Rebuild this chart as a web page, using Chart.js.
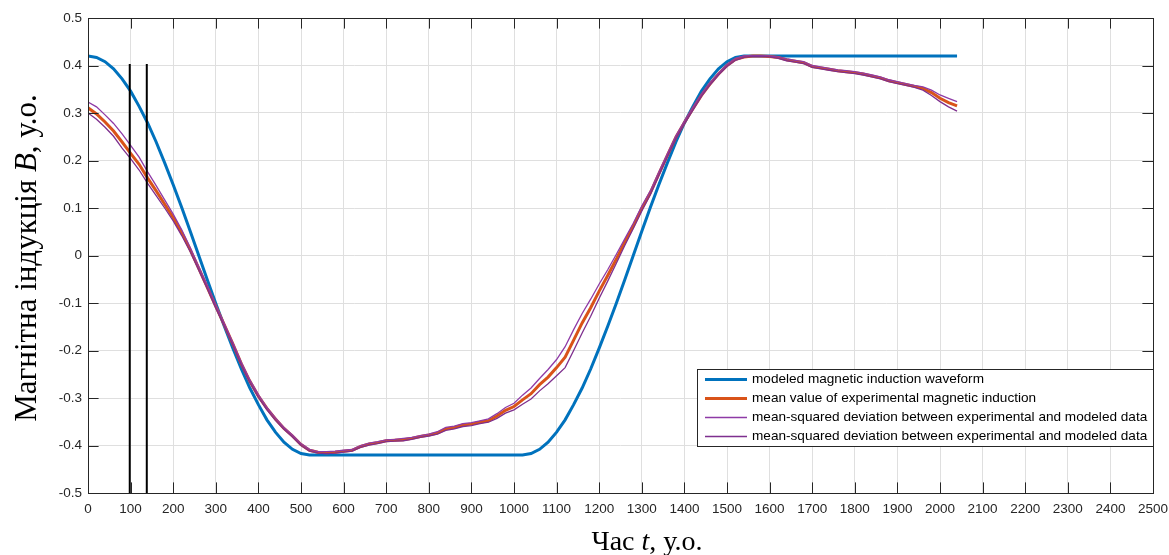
<!DOCTYPE html>
<html>
<head>
<meta charset="utf-8">
<script src="https://cdn.jsdelivr.net/npm/chart.js@4.4.1/dist/chart.umd.min.js"></script>
<style>
  html, body { margin: 0; padding: 0; background: #ffffff; }
  canvas { display: block; }
</style>
</head>
<body>
<canvas id="chart" width="1169" height="555"></canvas>
<script>
// Sampling step of all series, time in conventional units
const T_STEP = 20;

// Modeled magnetic induction waveform, t = 0 … 2040
const modeled = [
  0.420, 0.417, 0.408, 0.393, 0.372, 0.346, 0.314, 0.279, 0.239, 0.195,
  0.149, 0.101, 0.051, 0.000, -0.051, -0.101, -0.149, -0.195, -0.239, -0.279,
  -0.314, -0.346, -0.372, -0.393, -0.408, -0.417, -0.420,
  -0.420, -0.420, -0.420, -0.420, -0.420, -0.420, -0.420, -0.420, -0.420, -0.420,
  -0.420, -0.420, -0.420, -0.420, -0.420, -0.420, -0.420, -0.420, -0.420, -0.420,
  -0.420, -0.420, -0.420, -0.420,
  -0.420, -0.417, -0.408, -0.393, -0.372, -0.346, -0.314, -0.279, -0.239, -0.195,
  -0.149, -0.101, -0.051, 0.000, 0.051, 0.101, 0.149, 0.195, 0.239, 0.279,
  0.314, 0.346, 0.372, 0.393, 0.408, 0.417, 0.420,
  0.420, 0.420, 0.420, 0.420, 0.420, 0.420, 0.420, 0.420, 0.420, 0.420,
  0.420, 0.420, 0.420, 0.420, 0.420, 0.420, 0.420, 0.420, 0.420, 0.420,
  0.420, 0.420, 0.420, 0.420, 0.420
];

// Mean value of experimental magnetic induction
const meanExp = [
  0.311, 0.298, 0.281, 0.262, 0.239, 0.215, 0.192, 0.163, 0.136, 0.108,
  0.080, 0.048, 0.012, -0.027, -0.067, -0.107, -0.146, -0.186, -0.228, -0.265,
  -0.296, -0.322, -0.344, -0.364, -0.380, -0.398, -0.410, -0.414, -0.415, -0.414,
  -0.412, -0.410, -0.402, -0.397, -0.394, -0.390, -0.389, -0.388, -0.385, -0.381,
  -0.378, -0.374, -0.365, -0.362, -0.357, -0.355, -0.351, -0.348, -0.338, -0.326,
  -0.318, -0.304, -0.291, -0.272, -0.256, -0.236, -0.214, -0.178, -0.142, -0.110,
  -0.075, -0.042, -0.008, 0.028, 0.062, 0.099, 0.132, 0.172, 0.211, 0.249,
  0.280, 0.309, 0.337, 0.361, 0.382, 0.400, 0.413, 0.418, 0.420, 0.420,
  0.419, 0.417, 0.412, 0.409, 0.406, 0.398, 0.395, 0.392, 0.389, 0.387,
  0.385, 0.382, 0.378, 0.374, 0.368, 0.364, 0.360, 0.356, 0.352, 0.343,
  0.331, 0.322, 0.315
];

// Upper mean-squared deviation bound
const devUpper = [
  0.323, 0.313, 0.296, 0.278, 0.256, 0.232, 0.207, 0.176, 0.147, 0.117,
  0.087, 0.054, 0.017, -0.023, -0.063, -0.104, -0.143, -0.183, -0.225, -0.262,
  -0.293, -0.320, -0.342, -0.362, -0.378, -0.396, -0.408, -0.413, -0.413, -0.412,
  -0.410, -0.408, -0.400, -0.395, -0.392, -0.388, -0.387, -0.385, -0.383, -0.379,
  -0.376, -0.371, -0.362, -0.359, -0.354, -0.352, -0.348, -0.344, -0.333, -0.320,
  -0.311, -0.294, -0.279, -0.259, -0.240, -0.219, -0.192, -0.156, -0.122, -0.092,
  -0.060, -0.030, 0.002, 0.035, 0.068, 0.104, 0.136, 0.176, 0.214, 0.252,
  0.283, 0.312, 0.340, 0.364, 0.384, 0.402, 0.415, 0.420, 0.421, 0.421,
  0.420, 0.418, 0.414, 0.411, 0.408, 0.400, 0.397, 0.394, 0.391, 0.389,
  0.387, 0.384, 0.380, 0.376, 0.370, 0.366, 0.362, 0.358, 0.355, 0.348,
  0.338, 0.331, 0.324
];

// Lower mean-squared deviation bound
const devLower = [
  0.300, 0.287, 0.270, 0.251, 0.226, 0.204, 0.180, 0.152, 0.126, 0.100,
  0.073, 0.042, 0.008, -0.031, -0.070, -0.111, -0.149, -0.189, -0.231, -0.268,
  -0.299, -0.325, -0.347, -0.366, -0.382, -0.400, -0.412, -0.416, -0.417, -0.416,
  -0.414, -0.412, -0.404, -0.399, -0.396, -0.392, -0.391, -0.390, -0.387, -0.383,
  -0.380, -0.376, -0.368, -0.365, -0.360, -0.358, -0.354, -0.351, -0.343, -0.332,
  -0.325, -0.313, -0.302, -0.285, -0.270, -0.253, -0.236, -0.200, -0.163, -0.128,
  -0.090, -0.054, -0.017, 0.021, 0.057, 0.094, 0.128, 0.168, 0.208, 0.246,
  0.277, 0.306, 0.335, 0.359, 0.380, 0.398, 0.411, 0.417, 0.419, 0.419,
  0.418, 0.415, 0.410, 0.407, 0.404, 0.396, 0.393, 0.390, 0.387, 0.385,
  0.383, 0.380, 0.376, 0.372, 0.366, 0.362, 0.358, 0.354, 0.348, 0.337,
  0.324, 0.313, 0.304
];

// Vertical marker lines (time positions and their vertical extent)
const markerTimes = [98, 138];
const markerRange = [-0.5, 0.403];

// Axis limits and tick steps
const xRange = [0, 2500];
const xStep = 100;
const yRange = [-0.5, 0.5];
const yStep = 0.1;

const legendLabels = [
  'modeled magnetic induction waveform',
  'mean value of experimental magnetic induction',
  'mean-squared deviation between experimental and modeled data',
  'mean-squared deviation between experimental and modeled data'
];

const axisColor = '#262626';
const colors = ['#0072BD', '#D95319', '#8E3AA6', '#7E2F8E'];

const toPoints = arr => arr.map((v, i) => ({ x: i * T_STEP, y: v }));

const datasets = [
  { label: legendLabels[0], data: toPoints(modeled), borderColor: colors[0], borderWidth: 3, order: 5 },
  { label: legendLabels[1], data: toPoints(meanExp), borderColor: colors[1], borderWidth: 3, order: 4 },
  { label: legendLabels[2], data: toPoints(devUpper), borderColor: colors[2], borderWidth: 1.3, order: 3 },
  { label: legendLabels[3], data: toPoints(devLower), borderColor: colors[3], borderWidth: 1.3, order: 2 }
];
markerTimes.forEach(t => {
  datasets.push({
    label: '', data: markerRange.map(v => ({ x: t, y: v })),
    borderColor: '#000000', borderWidth: 2, order: 1, isMarker: true
  });
});

// Draw a line of text with mixed upright / italic pieces, centred on (0,0)
function drawRich(ctx, parts, size, family) {
  let total = 0;
  const widths = parts.map(p => {
    ctx.font = (p.italic ? 'italic ' : '') + size + 'px ' + family;
    const w = ctx.measureText(p.text).width;
    total += w;
    return w;
  });
  let x = -total / 2;
  parts.forEach((p, i) => {
    ctx.font = (p.italic ? 'italic ' : '') + size + 'px ' + family;
    ctx.fillText(p.text, x, 0);
    x += widths[i];
  });
}

const framePlugin = {
  id: 'frame',
  afterDatasetsDraw(chart) {
    const { ctx, chartArea: a, scales } = chart;
    const tl = 10.6;
    ctx.save();
    ctx.strokeStyle = axisColor;
    ctx.lineWidth = 1;
    ctx.beginPath();
    scales.x.ticks.forEach(t => {
      const px = Math.round(scales.x.getPixelForValue(t.value)) + 0.5;
      ctx.moveTo(px, a.bottom); ctx.lineTo(px, a.bottom - tl);
      ctx.moveTo(px, a.top); ctx.lineTo(px, a.top + tl);
    });
    scales.y.ticks.forEach(t => {
      const py = Math.round(scales.y.getPixelForValue(t.value)) + 0.5;
      ctx.moveTo(a.left, py); ctx.lineTo(a.left + tl, py);
      ctx.moveTo(a.right, py); ctx.lineTo(a.right - tl, py);
    });
    ctx.stroke();
    ctx.strokeRect(Math.round(a.left) + 0.5, Math.round(a.top) + 0.5,
                   Math.round(a.right - a.left), Math.round(a.bottom - a.top));
    ctx.restore();
  },
  afterDraw(chart) {
    const { ctx, chartArea: a } = chart;
    ctx.save();
    // legend box
    const lx = 697, ly = 369, lw = Math.round(a.right) - 697 + 1, lh = 77;
    ctx.fillStyle = '#ffffff';
    ctx.fillRect(lx, ly, lw, lh);
    ctx.strokeStyle = axisColor;
    ctx.lineWidth = 1;
    ctx.strokeRect(lx + 0.5, ly + 0.5, lw - 1, lh);
    const rows = chart.data.datasets.filter(d => !d.isMarker);
    ctx.font = '13.6px "Liberation Sans", Arial, sans-serif';
    ctx.textBaseline = 'middle';
    rows.forEach((d, i) => {
      const y = ly + 10.5 + i * 19;
      ctx.strokeStyle = d.borderColor;
      ctx.lineWidth = d.borderWidth;
      ctx.beginPath();
      ctx.moveTo(705, y); ctx.lineTo(747, y);
      ctx.stroke();
      ctx.fillStyle = '#000000';
      ctx.fillText(d.label, 752, y);
    });
    // axis titles
    const serif = '"Liberation Serif", "Times New Roman", serif';
    ctx.fillStyle = '#000000';
    ctx.textBaseline = 'alphabetic';
    ctx.save();
    ctx.translate(647, 550);
    drawRich(ctx, [{ text: 'Час ' }, { text: 't', italic: true }, { text: ', у.о.' }], 28, serif);
    ctx.restore();
    ctx.save();
    ctx.translate(36, 258);
    ctx.rotate(-Math.PI / 2);
    drawRich(ctx, [{ text: 'Магнітна індукція ' }, { text: 'B', italic: true }, { text: ', у.о.' }], 31, serif);
    ctx.restore();
    ctx.restore();
  }
};

new Chart(document.getElementById('chart'), {
  type: 'line',
  data: { datasets },
  options: {
    responsive: false,
    animation: false,
    devicePixelRatio: 1,
    layout: { padding: { left: 0, right: 16, top: 18, bottom: 0 } },
    elements: { point: { radius: 0 }, line: { tension: 0, fill: false } },
    plugins: { legend: { display: false }, tooltip: { enabled: false } },
    scales: {
      x: {
        type: 'linear', min: xRange[0], max: xRange[1],
        afterFit: s => { s.height = 62; s.paddingLeft = 0; s.paddingRight = 0; },
        border: { display: false },
        grid: { color: '#dfdfdf', lineWidth: 1, drawTicks: false },
        ticks: {
          stepSize: xStep, padding: 8, color: axisColor, maxRotation: 0, autoSkip: false,
          font: { family: '"Liberation Sans", Arial, sans-serif', size: 13.5 },
          callback: v => String(Math.round(v))
        }
      },
      y: {
        type: 'linear', min: yRange[0], max: yRange[1],
        afterFit: s => { s.width = 88; },
        border: { display: false },
        grid: { color: '#dfdfdf', lineWidth: 1, drawTicks: false },
        ticks: {
          stepSize: yStep, padding: 6, color: axisColor, autoSkip: false,
          font: { family: '"Liberation Sans", Arial, sans-serif', size: 13.5 },
          callback: v => String(Number(v.toFixed(1)))
        }
      }
    }
  },
  plugins: [framePlugin]
});
</script>
</body>
</html>
